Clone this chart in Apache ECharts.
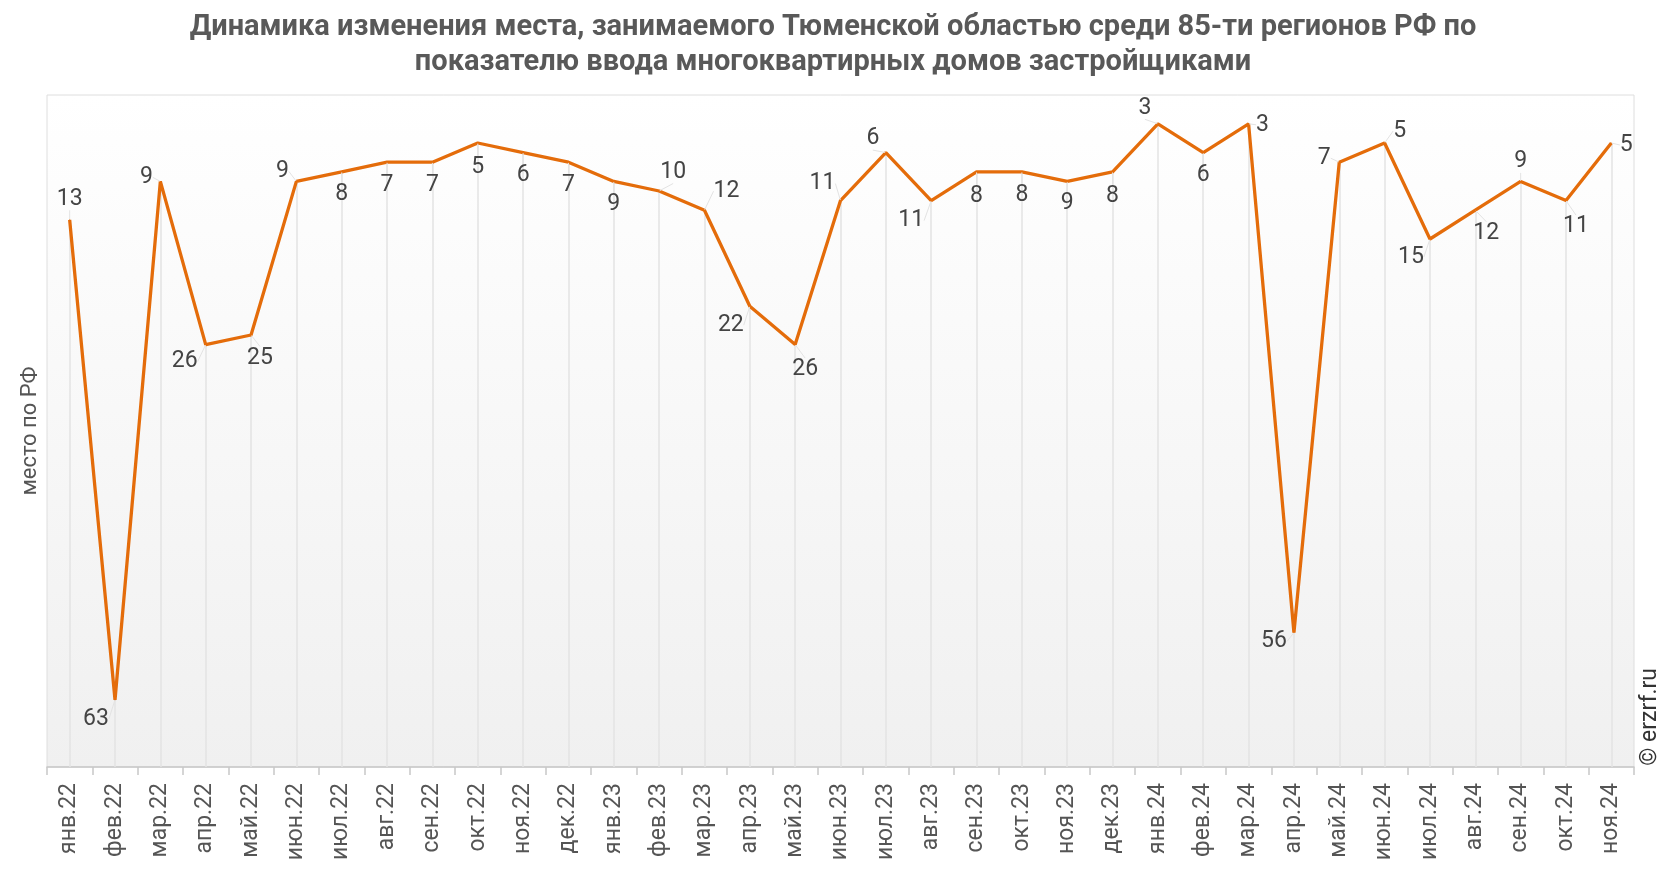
<!DOCTYPE html>
<html>
<head>
<meta charset="utf-8">
<script src="https://cdn.jsdelivr.net/npm/echarts@6/dist/echarts.min.js"></script>
<style>
  html, body { margin: 0; padding: 0; background: #fff; }
  #chart { width: 1666px; height: 872px; }
</style>
</head>
<body>
<div id="chart"></div>
<script>
var months = [
  'янв.22', 'фев.22', 'мар.22', 'апр.22', 'май.22', 'июн.22', 'июл.22', 'авг.22', 'сен.22', 'окт.22', 'ноя.22', 'дек.22',
  'янв.23', 'фев.23', 'мар.23', 'апр.23', 'май.23', 'июн.23', 'июл.23', 'авг.23', 'сен.23', 'окт.23', 'ноя.23', 'дек.23',
  'янв.24', 'фев.24', 'мар.24', 'апр.24', 'май.24', 'июн.24', 'июл.24', 'авг.24', 'сен.24', 'окт.24', 'ноя.24'
];
var places = [
  13, 63, 9, 26, 25, 9, 8, 7, 7, 5, 6, 7,
  9, 10, 12, 22, 26, 11, 6, 11, 8, 8, 9, 8,
  3, 6, 3, 56, 7, 5, 15, 12, 9, 11, 5
];
var yMin = 0;
var yMax = 70;

// where each value label sits relative to its point, px
var labelShift = [
  [0, -21], [-19, 19], [-14, -4], [-21, 17], [9, 23], [-14, -10], [0, 22], [0, 23], [0, 23], [0, 24], [0, 23], [0, 23],
  [0, 23], [14, -19], [22, -19], [-19, 19], [10, 25], [-18, -17], [-13, -14], [-20, 20], [0, 24], [0, 23], [0, 22], [0, 24],
  [-13, -16], [0, 23], [14, 1], [-20, 9], [-15, -4], [15, -12], [-19, 18], [11, 23], [0, -20], [10, 26], [15, 2]
];

var dropLines = places.map(function (v, i) {
  return [{ coord: [months[i], v] }, { coord: [months[i], yMax] }];
});

var option = {
  backgroundColor: '#fff',
  animation: false,
  textStyle: { fontFamily: 'Roboto' },
  title: {
    left: 'center',
    top: 5,
    text: 'Динамика изменения места, занимаемого Тюменской областью среди 85-ти регионов РФ по\nпоказателю ввода многоквартирных домов застройщиками',
    textStyle: {
      color: '#595959',
      fontSize: 29,
      fontWeight: 'bold',
      lineHeight: 35,
      fontFamily: 'Roboto'
    }
  },
  grid: {
    left: 47,
    right: 32,
    top: 95,
    bottom: 105,
    show: true,
    borderColor: '#dedede',
    borderWidth: 1,
    backgroundColor: new echarts.graphic.LinearGradient(0, 0, 0, 1, [{
      offset: 0,
      color: '#ffffff'
    }, {
      offset: 1,
      color: '#f0f0f0'
    }])
  },
  xAxis: {
    type: 'category',
    boundaryGap: true,
    data: months,
    axisLine: { onZero: false, lineStyle: { color: '#c8c8c8', width: 1.5 } },
    axisTick: { show: true, length: 8, lineStyle: { color: '#c8c8c8', width: 1.5 } },
    axisLabel: {
      rotate: 90,
      color: '#555',
      fontSize: 23,
      margin: 16
    },
    splitLine: { show: false }
  },
  yAxis: {
    type: 'value',
    inverse: true,
    min: yMin,
    max: yMax,
    name: 'место по РФ',
    nameLocation: 'middle',
    nameGap: 6,
    nameTextStyle: { color: '#555', fontSize: 22 },
    axisLine: { show: false },
    axisTick: { show: false },
    axisLabel: { show: false },
    splitLine: { show: false }
  },
  graphic: [{
    type: 'text',
    right: 4,
    top: 668,
    rotation: Math.PI / 2,
    style: {
      text: '© erzrf.ru',
      fill: '#333',
      fontSize: 23,
      fontFamily: 'Roboto'
    }
  }],
  series: [{
    name: 'место',
    type: 'line',
    data: places,
    symbol: 'circle',
    symbolSize: 1,
    showSymbol: true,
    lineStyle: { color: '#e46c0a', width: 3.3 },
    itemStyle: { color: '#e46c0a' },
    label: {
      show: true,
      position: 'inside',
      color: '#444',
      fontSize: 23
    },
    labelLayout: function (params) {
      var s = labelShift[params.dataIndex];
      return { dx: s[0], dy: s[1] };
    },
    labelLine: {
      show: true,
      lineStyle: { color: '#e3e3e3', width: 1 }
    },
    markLine: {
      silent: true,
      symbol: 'none',
      label: { show: false },
      lineStyle: { color: '#e3e3e3', width: 1.5, type: 'solid' },
      data: dropLines,
      z: 1
    },
    z: 3
  }]
};

var chart = echarts.init(document.getElementById('chart'));
chart.setOption(option);
</script>
</body>
</html>
